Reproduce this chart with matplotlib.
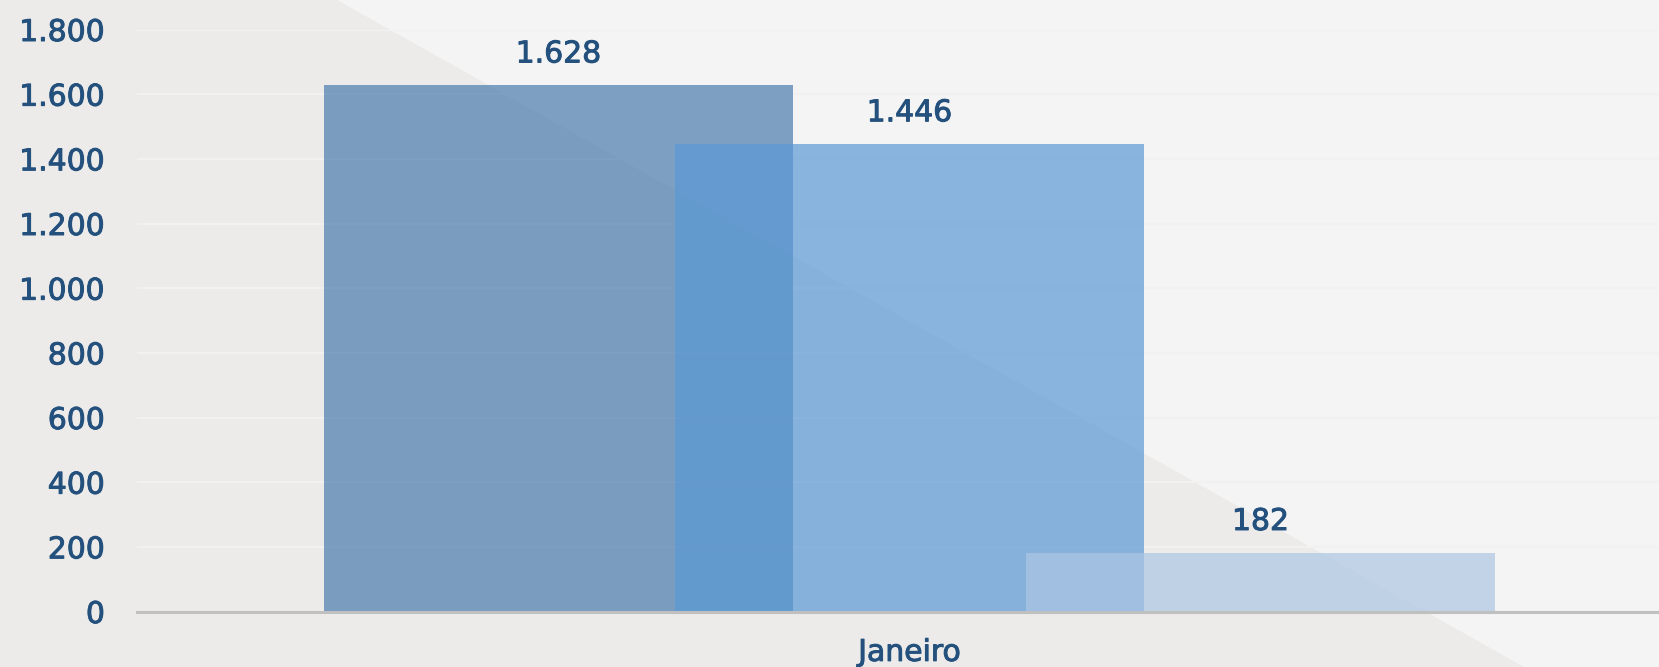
import matplotlib
matplotlib.use("Agg")
import matplotlib.pyplot as plt
import matplotlib.patheffects as pe
from matplotlib.patches import Polygon
from matplotlib.ticker import FuncFormatter

# Data
categories = ["Janeiro"]
series_names = ["Série 1", "Série 2", "Série 3"]
series_values = [[1628], [1446], [182]]
y_ticks = [0, 200, 400, 600, 800, 1000, 1200, 1400, 1600, 1800]

# Styles
bar_colors = ["#4a7cae", "#5a99d5", "#adc6e4"]
bar_alpha = 0.7
text_color = "#23507c"
bg_light = "#f4f4f4"
bg_dark = "#ecebe9"
bold_fx = [pe.withStroke(linewidth=0.7, foreground=text_color)]

W, H = 1659, 667
fig = plt.figure(figsize=(W / 100, H / 100), dpi=100, facecolor=bg_light)

# diagonal background split, on a background axes
bg_ax = fig.add_axes([0, 0, 1, 1], zorder=-10)
bg_ax.set_xlim(0, 1)
bg_ax.set_ylim(0, 1)
bg_ax.axis("off")
bg_ax.add_patch(Polygon([(0, 0), (0, 1), (337 / W, 1), (1524 / W, 0)], closed=True,
                        facecolor=bg_dark, edgecolor="none"))

ax = fig.add_axes([137 / W, 55.5 / H, 1 - 137 / W, (611.5 - 29.5) / H], zorder=1)
ax.set_facecolor("none")

step = 1.0
width = 469 / 351
n = len(series_values)
for i, (name, vals, col) in enumerate(zip(series_names, series_values, bar_colors)):
    off = (i - (n - 1) / 2) * step
    xs = [k + off for k in range(len(categories))]
    ax.bar(xs, vals, width=width, color=col, alpha=bar_alpha, label=name,
           zorder=2, linewidth=0)
    for x, v in zip(xs, vals):
        ax.annotate(f"{v:,}".replace(",", "."), (x, v), xytext=(0, 12),
                    textcoords="offset points", ha="center", va="bottom",
                    color=text_color, fontsize=21.5, zorder=3, path_effects=bold_fx)

ax.set_xlim((137 - 909.5) / 351, (1659 - 909.5) / 351)
ax.set_ylim(0, 1800)
ax.set_yticks(y_ticks)
ax.yaxis.set_major_formatter(FuncFormatter(lambda v, p: f"{int(v):,}".replace(",", ".")))
ax.set_xticks(range(len(categories)))
ax.set_xticklabels(categories)

ax.tick_params(axis="y", length=0, pad=23, labelsize=21.5, labelcolor=text_color)
ax.tick_params(axis="x", length=0, pad=19, labelsize=21.5, labelcolor=text_color)
for lbl in ax.get_xticklabels() + ax.get_yticklabels():
    lbl.set_path_effects(bold_fx)

ax.grid(axis="y", color="#f1f1f1", linewidth=1.5, zorder=1)
ax.set_axisbelow(True)
for s in ["top", "right", "left"]:
    ax.spines[s].set_visible(False)
ax.spines["bottom"].set_color("#c0c0c0")
ax.spines["bottom"].set_linewidth(2.2)
ax.spines["bottom"].set_zorder(4)

fig.savefig("out.png", dpi=100, facecolor=fig.get_facecolor())
